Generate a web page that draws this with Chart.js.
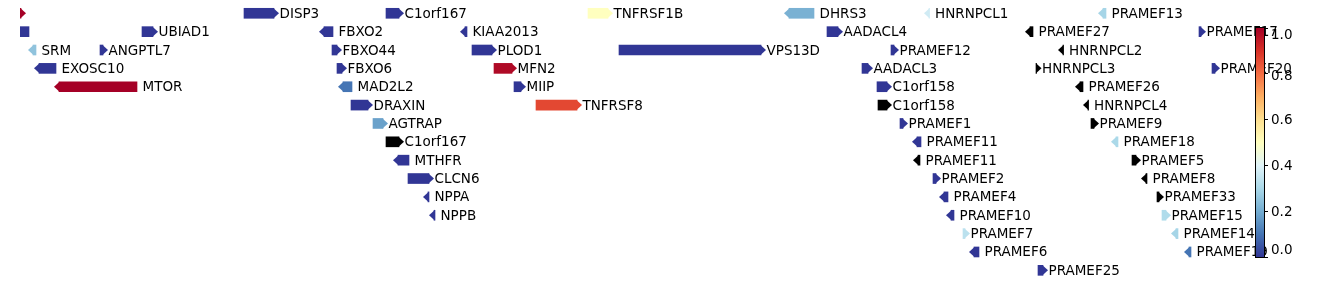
<!DOCTYPE html>
<html><head><meta charset="utf-8">
<script src="https://cdn.jsdelivr.net/npm/chart.js@4.4.1/dist/chart.umd.min.js"></script>
<style>
html,body{margin:0;padding:0;background:#fff;}
#wrap{position:relative;width:1338px;height:285px;}
canvas{position:absolute;left:0;top:0;}
</style>
</head><body>
<div id="wrap"><canvas id="genes" width="1338" height="285"></canvas><canvas id="cbar" width="1338" height="285"></canvas></div>
<script>
// ---- data (genomic positions in kb, chr1) ----
const geneNames   = ['', 'DISP3', 'C1orf167', 'TNFRSF1B', 'DHRS3', 'HNRNPCL1', 'PRAMEF13',
  '', 'UBIAD1', 'FBXO2', 'KIAA2013', 'AADACL4', 'PRAMEF27', 'PRAMEF17',
  'SRM', 'ANGPTL7', 'FBXO44', 'PLOD1', 'VPS13D', 'PRAMEF12', 'HNRNPCL2',
  'EXOSC10', 'FBXO6', 'MFN2', 'AADACL3', 'HNRNPCL3', 'PRAMEF20',
  'MTOR', 'MAD2L2', 'MIIP', 'C1orf158', 'PRAMEF26',
  'DRAXIN', 'TNFRSF8', 'C1orf158', 'HNRNPCL4',
  'AGTRAP', 'PRAMEF1', 'PRAMEF9',
  'C1orf167', 'PRAMEF11', 'PRAMEF18',
  'MTHFR', 'PRAMEF11', 'PRAMEF5',
  'CLCN6', 'PRAMEF2', 'PRAMEF8',
  'NPPA', 'PRAMEF4', 'PRAMEF33',
  'NPPB', 'PRAMEF10', 'PRAMEF15',
  'PRAMEF7', 'PRAMEF14',
  'PRAMEF6', 'PRAMEF19',
  'PRAMEF25'];
const geneRows    = [0,0,0,0,0,0,0, 1,1,1,1,1,1,1, 2,2,2,2,2,2,2, 3,3,3,3,3,3, 4,4,4,4,4, 5,5,5,5, 6,6,6, 7,7,7, 8,8,8, 9,9,9, 10,10,10, 11,11,11, 12,12, 13,13, 14];
const geneStarts  = [11008, 11476, 11760, 12164, 12566, 12846, 13194,
  10998, 11272, 11636, 11918, 12642, 13048, 13386,
  11054, 11188, 11652, 11932, 12226, 12770, 13114,
  11066, 11662, 11976, 12712, 13060, 13412,
  11106, 11674, 12016, 12742, 13148,
  11690, 12060, 12744, 13164,
  11734, 12788, 13170,
  11760, 12822, 13220,
  11784, 12824, 13252,
  11804, 12854, 13280,
  11844, 12876, 13302,
  11856, 12890, 13312,
  12914, 13340,
  12936, 13366,
  13064];
const geneEnds    = [11030, 11536, 11786, 12204, 12616, 12847, 13200,
  11046, 11294, 11654, 11922, 12664, 13054, 13390,
  11060, 11194, 11662, 11972, 12510, 12776, 13115,
  11100, 11672, 12012, 12724, 13061, 13418,
  11262, 11692, 12030, 12762, 13154,
  11724, 12142, 12762, 13165,
  11754, 12794, 13176,
  11786, 12830, 13224,
  11806, 12828, 13260,
  11846, 12860, 13282,
  11846, 12884, 13306,
  11858, 12896, 13320,
  12918, 13344,
  12946, 13370,
  13074];
const geneStrands = [1,1,1,1,-1,-1,-1,
  -1,1,-1,-1,1,-1,1,
  -1,1,1,1,1,1,-1,
  -1,1,1,1,1,1,
  -1,-1,1,1,-1,
  1,1,1,-1,
  1,1,1,
  1,-1,-1,
  -1,-1,1,
  1,1,-1,
  -1,-1,1,
  -1,-1,1,
  1,-1,
  -1,-1,
  1];
const geneValues  = [1.0, 0, 0, 0.5, 0.21, 0.37, 0.29,
  0, 0, 0, 0, 0, null, 0,
  0.25, 0, 0, 0, 0, 0, null,
  0, 0, 0.98, 0, null, 0,
  1.0, 0.1, 0, 0, null,
  0, 0.86, null, null,
  0.18, 0, null,
  null, 0, 0.3,
  0, null, null,
  0, 0, null,
  0, 0, null,
  0, 0, 0.31,
  0.33, 0.29,
  0, 0.1,
  0];
const cbarTicks = [0, 0.2, 0.4, 0.6, 0.8, 1.0];

// ---- style ----
const HEAD_KB = 10;
const FONT = '"DejaVu Sans", sans-serif';
const CBAR_LABEL_NUDGE = [-7, 1, 1, 1, 3, 7];
const RDYLBU_R = ['#313695','#4575b4','#74add1','#abd9e9','#e0f3f8','#ffffbf','#fee090','#fdae61','#f46d43','#d73027','#a50026'];
function hex2rgb(h){return [parseInt(h.slice(1,3),16),parseInt(h.slice(3,5),16),parseInt(h.slice(5,7),16)];}
function cmap(v){
  if (v === null || v === undefined || isNaN(v)) return '#000000';
  v = Math.max(0, Math.min(1, v));
  const p = v * (RDYLBU_R.length - 1), i = Math.min(Math.floor(p), RDYLBU_R.length - 2), t = p - i;
  const a = hex2rgb(RDYLBU_R[i]), b = hex2rgb(RDYLBU_R[i+1]);
  return 'rgb(' + a.map((c,k)=>Math.round(c + (b[k]-c)*t)).join(',') + ')';
}
const colors = geneValues.map(cmap);

const arrowPlugin = {
  id: 'arrowHeads',
  afterDatasetsDraw(chart){
    const {ctx, chartArea: a, scales: {x, y}} = chart;
    ctx.save();
    ctx.beginPath(); ctx.rect(a.left, a.top, a.right - a.left, a.bottom - a.top); ctx.clip();
    const h = 5;
    geneNames.forEach((n, i) => {
      const yc = y.getPixelForValue(geneRows[i]);
      ctx.fillStyle = colors[i];
      ctx.beginPath();
      if (geneStrands[i] > 0) {
        const xe = x.getPixelForValue(geneEnds[i]);
        const xt = x.getPixelForValue(geneEnds[i] + HEAD_KB);
        ctx.moveTo(xe - 0.5, yc - h); ctx.lineTo(xt, yc); ctx.lineTo(xe - 0.5, yc + h);
      } else {
        const xs = x.getPixelForValue(geneStarts[i]);
        const xt = x.getPixelForValue(geneStarts[i] - HEAD_KB);
        ctx.moveTo(xs + 0.5, yc - h); ctx.lineTo(xt, yc); ctx.lineTo(xs + 0.5, yc + h);
      }
      ctx.closePath(); ctx.fill();
    });
    ctx.restore();
    ctx.save();
    ctx.font = '13.5px ' + FONT;
    ctx.fillStyle = '#000';
    ctx.textBaseline = 'middle';
    ctx.textAlign = 'left';
    geneNames.forEach((n, i) => {
      if (!n) return;
      const yc = y.getPixelForValue(geneRows[i]);
      const xl = x.getPixelForValue(geneEnds[i] + HEAD_KB) + 0.5;
      ctx.fillText(n, xl, yc + 1);
    });
    ctx.restore();
  }
};

new Chart(document.getElementById('genes'), {
  type: 'bar',
  data: {
    datasets: [{
      data: geneNames.map((n, i) => ({x: [geneStarts[i], geneEnds[i]], y: geneRows[i]})),
      backgroundColor: colors,
      borderWidth: 0,
      borderSkipped: false,
      barThickness: 10
    }]
  },
  options: {
    indexAxis: 'y',
    responsive: false,
    animation: false,
    devicePixelRatio: 1,
    layout: {padding: {left: 20, right: 98, top: 0, bottom: 0}},
    plugins: {legend: {display: false}, tooltip: {enabled: false}},
    scales: {
      x: {type: 'linear', display: false, min: 11028, max: 13468, offset: false},
      y: {type: 'linear', display: false, reverse: true, min: -0.724, max: 14.799, offset: false}
    }
  },
  plugins: [arrowPlugin]
});

// ---- colorbar ----
const cbarPlugin = {
  id: 'cbarFill',
  beforeDatasetsDraw(chart){
    const {ctx, chartArea: a, scales: {y}} = chart;
    const g = ctx.createLinearGradient(0, y.getPixelForValue(0), 0, y.getPixelForValue(1));
    RDYLBU_R.forEach((c, k) => g.addColorStop(k / (RDYLBU_R.length - 1), c));
    ctx.save();
    ctx.fillStyle = g;
    ctx.fillRect(a.left, a.top, a.right - a.left, a.bottom - a.top);
    ctx.strokeStyle = '#000'; ctx.lineWidth = 1;
    ctx.strokeRect(Math.round(a.left) - 0.5, Math.round(a.top) - 0.5, Math.round(a.right - a.left) + 1, Math.round(a.bottom - a.top) + 1);
    ctx.restore();
  },
  afterDraw(chart){
    const {ctx, chartArea: a, scales: {y}} = chart;
    ctx.save();
    ctx.font = '13.5px ' + FONT;
    ctx.fillStyle = '#000';
    ctx.textBaseline = 'middle';
    ctx.textAlign = 'left';
    cbarTicks.forEach((v, k) => {
      ctx.fillText(v.toFixed(1), a.right + 7, y.getPixelForValue(v) + CBAR_LABEL_NUDGE[k]);
    });
    ctx.restore();
  }
};
new Chart(document.getElementById('cbar'), {
  type: 'scatter',
  data: {datasets: [{data: []}]},
  options: {
    responsive: false,
    animation: false,
    devicePixelRatio: 1,
    layout: {padding: {left: 1256, right: 0, top: 28, bottom: 28}},
    plugins: {legend: {display: false}, tooltip: {enabled: false}},
    scales: {
      x: {display: false, min: 0, max: 1},
      y: {
        position: 'right', min: 0, max: 1,
        afterFit(s){ s.width = 74; },
        afterBuildTicks(s){ s.ticks = cbarTicks.map(v => ({value: v})); },
        ticks: {display: false},
        grid: {drawOnChartArea: false, drawTicks: true, tickLength: 4, tickColor: '#000', lineWidth: 1},
        border: {display: true, color: '#000'}
      }
    }
  },
  plugins: [cbarPlugin]
});
</script>
</body></html>
